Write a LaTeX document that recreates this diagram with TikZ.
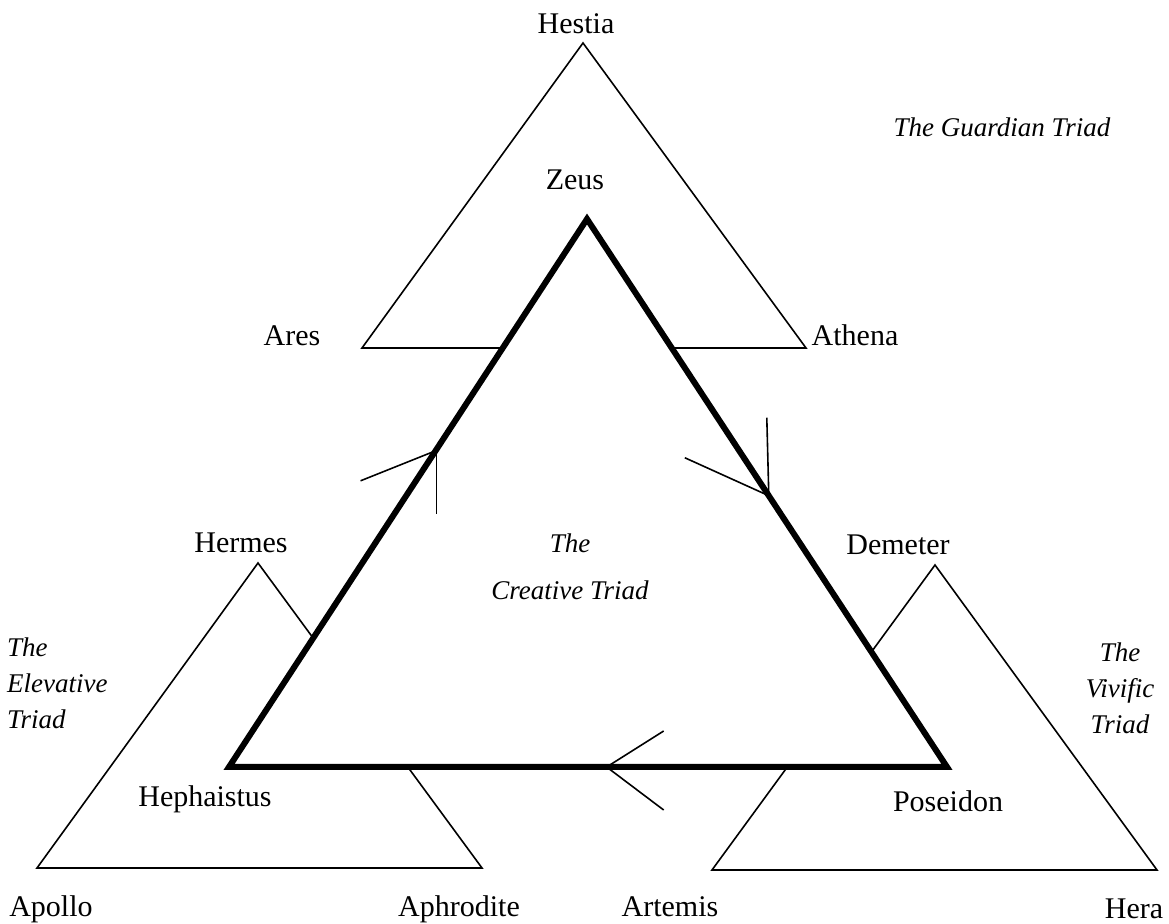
\documentclass[tikz,border=0pt]{standalone}
\usepackage{fontspec}
\setmainfont{Liberation Serif}[ItalicFont={Liberation Serif Italic}]
\usetikzlibrary{calc}

\begin{document}
\begin{tikzpicture}[x=0.5pt,y=-0.5pt,
        triad/.style={line width=0.8pt},
        creative/.style={line width=3pt},
        barb/.style={line width=0.8pt},
        god/.style={anchor=base,font=\fontsize{15}{18}\selectfont},
        title/.style={font=\fontsize{13.5}{18}\selectfont\itshape}]
        \useasboundingbox (0,0) rectangle (1169,924);
        % corners of the four triads
        \coordinate (c-hestia) at (583,43);
        \coordinate (c-ares) at (362,348);
        \coordinate (c-athena) at (806,348);
        \coordinate (c-hermes) at (258,563);
        \coordinate (c-apollo) at (37,868);
        \coordinate (c-aphrodite) at (482,868);
        \coordinate (c-demeter) at (935,565);
        \coordinate (c-artemis) at (712,870);
        \coordinate (c-hera) at (1157,870);
        \coordinate (c-zeus) at (587,219);
        \coordinate (c-hephaistus) at (229,767);
        \coordinate (c-poseidon) at (947,767);
        % outer triads, partly hidden behind the creative one
        \draw[triad] (c-hestia) -- (c-ares) -- (c-athena) -- cycle;
        \draw[triad] (c-hermes) -- (c-apollo) -- (c-aphrodite) -- cycle;
        \draw[triad] (c-demeter) -- (c-artemis) -- (c-hera) -- cycle;
        \fill[white] (c-zeus) -- (c-poseidon) -- (c-hephaistus) -- cycle;
        \draw[creative] (c-zeus) -- (c-poseidon) -- (c-hephaistus) -- cycle;
        % direction of the cycle
        \coordinate (tip-left) at ($(c-hephaistus)!0.577!(c-zeus)$);
        \coordinate (tip-right) at ($(c-zeus)!0.505!(c-poseidon)$);
        \coordinate (tip-bottom) at ($(c-poseidon)!0.474!(c-hephaistus)$);
        \draw[barb] (tip-left) -- ++(-75,30);
        \draw[barb] (tip-left) ++(1,-2) -- ++(0,65);
        \draw[barb] (tip-right) -- ++(-84,-38);
        \draw[barb] (tip-right) -- ++(-2,-78);
        \draw[barb] (tip-bottom) -- ++(57,-36);
        \draw[barb] (tip-bottom) -- ++(57,43);
        % names
        \node[god] (hestia) at (576,34) {Hestia};
        \node[god] (zeus) at (575,190) {Zeus};
        \node[god] (ares) at (292,346) {Ares};
        \node[god] (athena) at (855,346) {Athena};
        \node[god] (hermes) at (241,553) {Hermes};
        \node[god] (demeter) at (898,555) {Demeter};
        \node[god] (hephaistus) at (205,807) {Hephaistus};
        \node[god] (poseidon) at (948,812) {Poseidon};
        \node[god] (apollo) at (51,917) {Apollo};
        \node[god] (aphrodite) at (459,917) {Aphrodite};
        \node[god] (artemis) at (670,917) {Artemis};
        \node[god] (hera) at (1134,919) {Hera};
        % names of the triads
        \node[title,anchor=base] (guardian) at (1002,137) {The Guardian Triad};
        \node[title,align=center] (creative) at (570,567) {The\\[5.5pt]Creative Triad};
        \node[title,align=left,anchor=west] (elevative) at (0,683) {The\\Elevative\\Triad};
        \node[title,align=center] (vivific) at (1120,688) {The\\Vivific\\Triad};
\end{tikzpicture}
\end{document}
